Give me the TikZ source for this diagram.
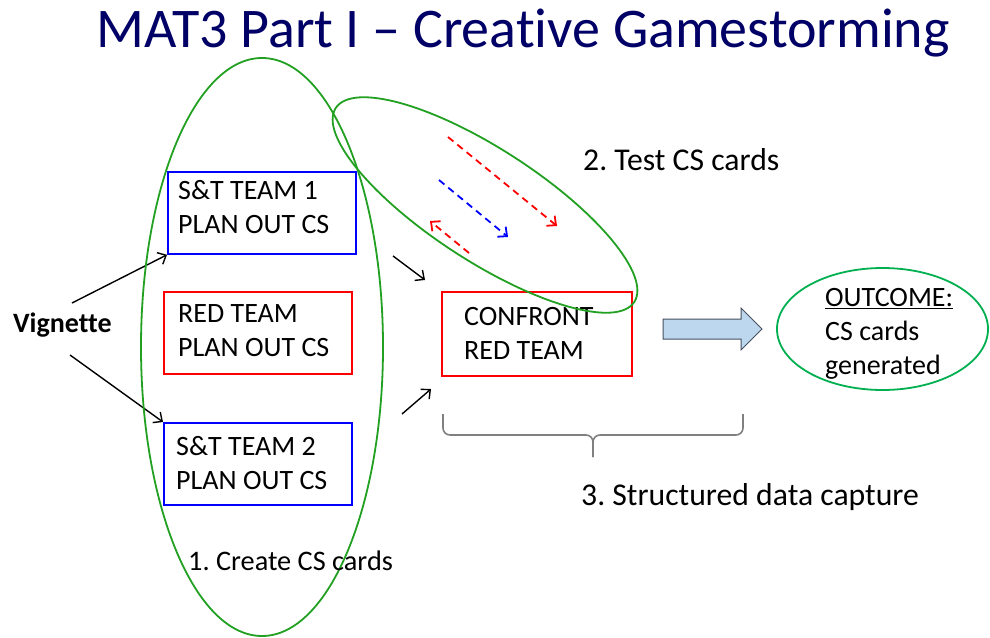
\documentclass[tikz,border=0pt]{standalone}
\usepackage{fontspec}
\setmainfont{Carlito}[Ligatures={NoCommon}]
\usetikzlibrary{arrows.meta,calc}
\frenchspacing

\definecolor{titleblue}{RGB}{0,0,102}
\definecolor{grpgreen}{RGB}{34,160,34}
\definecolor{outgreen}{RGB}{0,176,80}
\definecolor{teamblue}{RGB}{0,0,255}
\definecolor{teamred}{RGB}{255,0,0}
\definecolor{arrowfill}{RGB}{189,215,238}
\definecolor{arrowedge}{RGB}{70,80,95}
\definecolor{bracegray}{RGB}{128,128,128}

\begin{document}
\begin{tikzpicture}[x=1pt,y=-1pt,
  bodytext/.style={font=\fontsize{28}{34}\selectfont, inner sep=0pt, align=left},
  steptext/.style={bodytext, anchor=base west},
  box/.style={draw, line width=1.8pt, inner sep=0pt, anchor=north west,
              minimum width=188pt, minimum height=82pt},
  bluebox/.style={box, teamblue},
  redbox/.style={box, teamred},
  group/.style={grpgreen, line width=1.8pt},
  pointer/.style={line width=1.4pt, -{Straight Barb[length=7pt,width=13pt]}},
  flow/.style={line width=1.8pt, dash pattern=on 7pt off 5pt,
               -{Straight Barb[length=7pt,width=13pt]}}
]
\useasboundingbox (0,0) rectangle (990,637);

% title
\node[anchor=base west, inner sep=0pt, text=titleblue,
      font=\fontsize{56}{66}\selectfont] (title) at (96,47)
  {MAT3 Part I – Creative Gamestorming};

% team boxes
\node[bluebox] (st1) at (167,171) {};
\node[redbox]  (red) at (163,291) {};
\node[bluebox] (st2) at (163,422) {};
\node[redbox, minimum width=190pt, minimum height=84pt] (conf) at (441,291) {};

\node[bodytext, anchor=north west] (st1t) at (178,180) {S\&T TEAM 1\\PLAN OUT CS};
\node[bodytext, anchor=north west] (redt) at (178,304) {RED TEAM\\PLAN OUT CS};
\node[bodytext, anchor=north west] (st2t) at (176,436) {S\&T TEAM 2\\PLAN OUT CS};
\node[bodytext, anchor=north west] (conft) at (464,307) {CONFRONT\\RED TEAM};

% vignette feeding the two S&T teams
\node[bodytext, font=\fontsize{28}{34}\selectfont\bfseries, anchor=base west]
  (vig) at (13,332) {Vignette};
\coordinate (vigup) at (72,303);
\coordinate (vigdown) at (70,355);
\draw[pointer] (vigup) -- (st1.south west);
\draw[pointer] (vigdown) -- (st2.north west);

% group outlines
\draw[group] (262,347) ellipse [x radius=121, y radius=289];
\draw[group, rotate around={-33:(485,205)}] (485,205) ellipse [x radius=178, y radius=56];

% arrows into the confrontation
\coordinate (inA) at (393,256);
\coordinate (inAend) at (425,280);
\coordinate (inB) at (402,414);
\coordinate (inBend) at (431,389);
\draw[pointer] (inA) -- (inAend);
\draw[pointer] (inB) -- (inBend);

% card exchange inside the test loop
\coordinate (r1s) at (448,137);
\coordinate (r1e) at (557,226);
\coordinate (b1s) at (439,180);
\coordinate (b1e) at (508,237);
\coordinate (r2s) at (469,253);
\coordinate (r2e) at (430,221);
\draw[flow, teamred]  (r1s) -- (r1e);
\draw[flow, teamblue] (b1s) -- (b1e);
\draw[flow, teamred]  (r2s) -- (r2e);

% block arrow towards the outcome
\draw[fill=arrowfill, draw=arrowedge, line width=1pt, line join=miter]
  (663,319) -- (741,319) -- (741,308) -- (762,329) -- (741,350)
  -- (741,339) -- (663,339) -- cycle;

% outcome
\draw[outgreen, line width=1.8pt] (882.5,329) ellipse [x radius=105.5, y radius=61];
\node[bodytext, anchor=north west] (outt) at (825,288)
  {\underline{OUTCOME:}\\CS cards\\generated};

% brace under the confrontation
\draw[bracegray, line width=1.6pt, rounded corners=7pt]
  (443,414) -- (443,435) -- (593,435) -- (593,457);
\draw[bracegray, line width=1.6pt, rounded corners=7pt]
  (743,414) -- (743,435) -- (593,435) -- (593,457);

% step labels
\node[steptext, font=\fontsize{28.3}{34}\selectfont] (lbl1) at (188,570) {1. Create CS cards};
\node[steptext, font=\fontsize{31.7}{38}\selectfont] (lbl2) at (583,170) {2. Test CS cards};
\node[steptext, font=\fontsize{31.7}{38}\selectfont] (lbl3) at (581,505) {3. Structured data capture};
\end{tikzpicture}
\end{document}
